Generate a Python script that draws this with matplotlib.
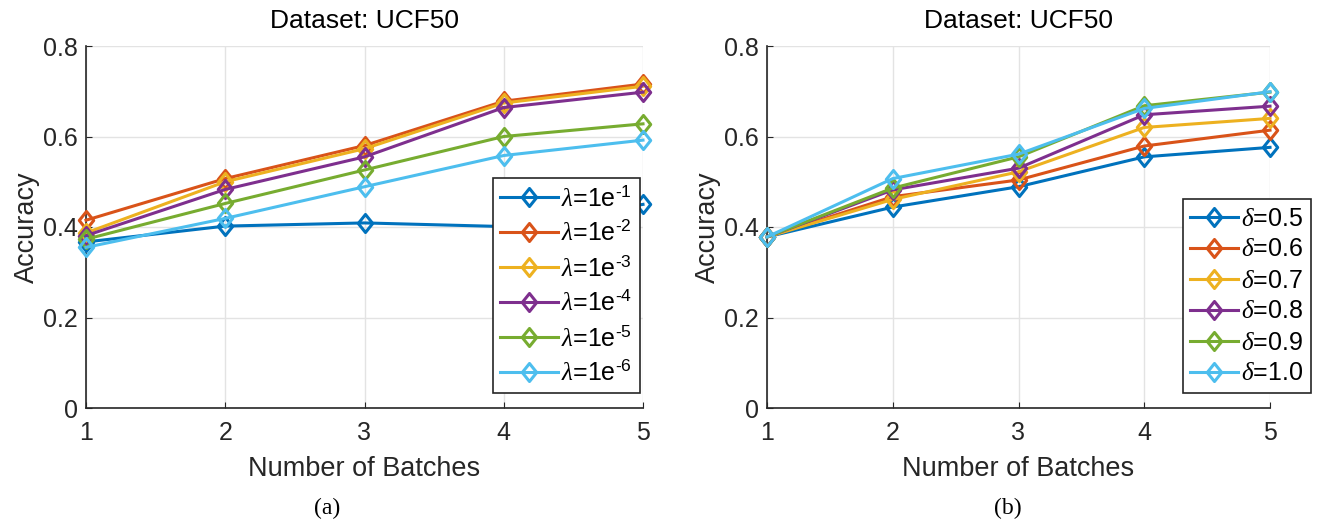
import matplotlib
matplotlib.use("Agg")
import matplotlib.pyplot as plt
from matplotlib.path import Path

plt.rcParams['font.family'] = ['Liberation Sans', 'DejaVu Sans']
plt.rcParams['mathtext.fontset'] = 'custom'
plt.rcParams['mathtext.rm'] = 'Liberation Sans'
plt.rcParams['mathtext.it'] = 'Liberation Serif:italic'
plt.rcParams['mathtext.sf'] = 'Liberation Sans'

batches = [1, 2, 3, 4, 5]
colors = ['#0072BD', '#D95319', '#EDB120', '#7E2F8E', '#77AC30', '#4DBEEE']

HY = '\u2010'
lambda_labels = ['$\\lambda$=1e$^{\\mathregular{' + HY + str(k) + '}}$' for k in range(1, 7)]
lam_1 = [0.367, 0.402, 0.409, 0.401, 0.450]
lam_2 = [0.415, 0.507, 0.580, 0.678, 0.716]
lam_3 = [0.387, 0.500, 0.573, 0.674, 0.711]
lam_4 = [0.381, 0.483, 0.555, 0.664, 0.698]
lam_5 = [0.373, 0.452, 0.526, 0.600, 0.628]
lam_6 = [0.355, 0.419, 0.489, 0.558, 0.592]
lambda_series = [lam_1, lam_2, lam_3, lam_4, lam_5, lam_6]

delta_labels = [r'$\delta$=0.5', r'$\delta$=0.6', r'$\delta$=0.7',
                r'$\delta$=0.8', r'$\delta$=0.9', r'$\delta$=1.0']
del_05 = [0.378, 0.444, 0.489, 0.555, 0.576]
del_06 = [0.378, 0.467, 0.504, 0.579, 0.614]
del_07 = [0.378, 0.461, 0.522, 0.620, 0.640]
del_08 = [0.378, 0.482, 0.530, 0.648, 0.667]
del_09 = [0.378, 0.486, 0.555, 0.668, 0.698]
del_10 = [0.378, 0.507, 0.561, 0.662, 0.699]
delta_series = [del_05, del_06, del_07, del_08, del_09, del_10]

diamond = Path([(0, 1), (0.8, 0), (0, -1), (-0.8, 0), (0, 1)],
               [Path.MOVETO, Path.LINETO, Path.LINETO, Path.LINETO, Path.CLOSEPOLY])

W, H = 1343, 523
fig = plt.figure(figsize=(W / 100, H / 100), dpi=100)

def make_axes(l, r, t, b):
    return fig.add_axes([l / W, 1 - b / H, (r - l) / W, (b - t) / H])

ax1 = make_axes(86, 643, 46, 408)
ax2 = make_axes(767, 1270, 46, 408)

def style(ax, series, labels, loc_bbox, lspace, hlen):
    for s, c, lab in zip(series, colors, labels):
        ax.plot(batches, s, color=c, lw=2.2, marker=diamond, ms=13, mfc='none',
                mew=2.2, label=lab, clip_on=False, zorder=3)
    ax.set_xlim(1, 5)
    ax.set_ylim(0, 0.8)
    ax.set_xticks(batches)
    ax.set_yticks([0, 0.2, 0.4, 0.6, 0.8])
    ax.set_yticklabels(['0', '0.2', '0.4', '0.6', '0.8'])
    ax.grid(True, color='#e3e3e3', lw=1)
    ax.set_axisbelow(True)
    for side in ['top', 'right']:
        ax.spines[side].set_visible(False)
    for side in ['left', 'bottom']:
        ax.spines[side].set_color('#262626')
        ax.spines[side].set_linewidth(1.2)
    ax.tick_params(labelsize=18, colors='#262626', direction='in', length=4)
    ax.tick_params(axis='x', pad=9)
    ax.tick_params(axis='y', pad=6)
    ax.set_xlabel('Number of Batches', fontsize=19.5, color='#262626', labelpad=8)
    ax.set_ylabel('Accuracy', fontsize=19.5, color='#262626', labelpad=2)
    ax.set_title('Dataset: UCF50', fontsize=19, color='black', pad=13)
    leg = ax.legend(loc='lower right', bbox_to_anchor=loc_bbox, fontsize=18,
                    frameon=True, fancybox=False, edgecolor='#262626',
                    handlelength=hlen, handletextpad=0.15, labelspacing=lspace,
                    borderpad=0.3, borderaxespad=0, framealpha=1)
    leg.get_frame().set_linewidth(1.2)

style(ax1, lambda_series, lambda_labels, ((640 - 86) / (643 - 86), (408 - 393) / 362), 0.4, 2.3)
style(ax2, delta_series, delta_labels, ((1311 - 767) / (1270 - 767), (408 - 393) / 362), 0.28, 1.9)

fig.text(327 / W, 1 - 508 / H, '(a)', ha='center', va='center', fontsize=17,
         family='Liberation Serif')
fig.text(1008 / W, 1 - 508 / H, '(b)', ha='center', va='center', fontsize=17,
         family='Liberation Serif')

fig.savefig('out.png', dpi=100)
